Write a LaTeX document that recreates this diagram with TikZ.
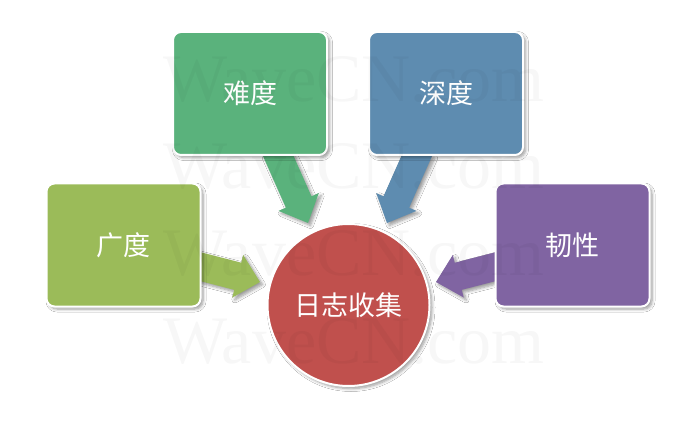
\documentclass[tikz,border=0pt]{standalone}
\usepackage{fontspec}
\setmainfont{Liberation Serif}
\newfontfamily\cjk{Noto Sans CJK SC}
\usetikzlibrary{calc,shadows.blur}
\definecolor{cNandu}{RGB}{90,178,124}
\definecolor{cShendu}{RGB}{94,140,176}
\definecolor{cGuangdu}{RGB}{155,187,89}
\definecolor{cRenxing}{RGB}{128,100,162}
\definecolor{cCenter}{RGB}{192,80,77}
\newcommand{\bigarrow}[3]{%
  \coordinate (#2b) at ($(#3)!23pt!(#2)$);
  \fill[#1, softshadow]
    ($(#2)!14pt!90:(#3)$) -- ($(#2b)!14pt!90:(#3)$) -- ($(#2b)!22pt!90:(#3)$)
    -- (#3) -- ($(#2b)!22pt!-90:(#3)$) -- ($(#2b)!14pt!-90:(#3)$)
    -- ($(#2)!14pt!-90:(#3)$) -- cycle;}
\begin{document}
\begin{tikzpicture}[x=1pt,y=-1pt,
  softshadow/.style={blur shadow={shadow xshift=2.5pt, shadow yshift=-2.5pt, shadow blur steps=6, shadow blur radius=3pt, shadow opacity=40}},
  boxnode/.style={rectangle, rounded corners=8pt, draw=white, line width=2pt,
    minimum width=154pt, minimum height=123pt, text=white, font=\cjk\fontsize{27}{30}\selectfont, softshadow},
  hubnode/.style={circle, draw=white, line width=2pt, minimum size=162pt, fill=cCenter,
    text=white, font=\cjk\fontsize{27}{30}\selectfont, softshadow},
  wmark/.style={text=black, opacity=0.03, font=\fontsize{68}{70}\selectfont}]
\useasboundingbox (0,0) rectangle (700,430);
\fill[white] (0,0) rectangle (700,430);
% arrow coordinates
\coordinate (s1) at (275.6,150);
\coordinate (t1) at (308,223);
\coordinate (s2) at (419.4,150);
\coordinate (t2) at (387,223);
\coordinate (s3) at (192,264.5);
\coordinate (t3) at (260,282);
\coordinate (s4) at (504,264.5);
\coordinate (t4) at (436,282);
\bigarrow{cNandu}{s1}{t1}
\bigarrow{cShendu}{s2}{t2}
\bigarrow{cGuangdu}{s3}{t3}
\bigarrow{cRenxing}{s4}{t4}
% boxes
\node[boxnode, fill=cNandu] (nandu) at (250,93.5) {难度};
\node[boxnode, fill=cShendu] (shendu) at (446,93.5) {深度};
\node[boxnode, fill=cGuangdu] (guangdu) at (123.5,245) {广度};
\node[boxnode, fill=cRenxing] (renxing) at (572.5,245) {韧性};
\node[hubnode] (hub) at (348.5,305) {日志收集};
% watermark
\node[wmark] (w1) at (354,80) {WaveCN.com};
\node[wmark] (w2) at (354,167) {WaveCN.com};
\node[wmark] (w3) at (354,254) {WaveCN.com};
\node[wmark] (w4) at (354,341) {WaveCN.com};
\end{tikzpicture}
\end{document}
